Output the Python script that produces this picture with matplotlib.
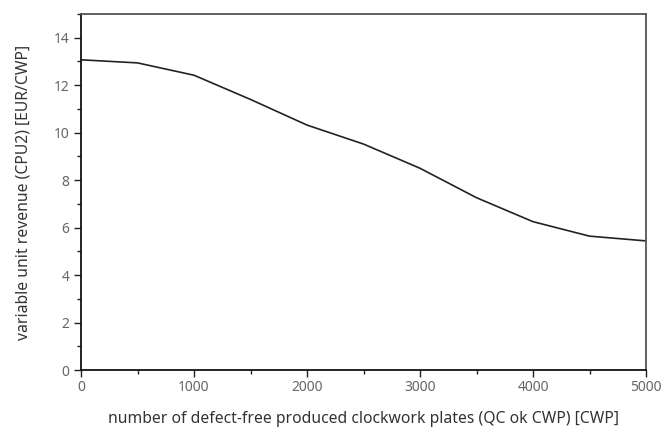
import matplotlib
matplotlib.use("Agg")
import matplotlib.pyplot as plt
from matplotlib.ticker import MultipleLocator

plt.rcParams['font.family'] = ['Noto Sans', 'DejaVu Sans']

# data
qty = [0, 500, 1000, 1500, 2000, 2500, 3000, 3500, 4000, 4500, 5000]
revenue = [13.07, 12.94, 12.42, 11.4, 10.32, 9.52, 8.5, 7.26, 6.25, 5.64, 5.44]

x_label = "number of defect-free produced clockwork plates (QC ok CWP) [CWP]"
y_label = "variable unit revenue (CPU2) [EUR/CWP]"

fig = plt.figure(figsize=(6.62, 4.3), dpi=100)
ax = fig.add_axes([81/662, 60/430, 565/662, 356/430])

ax.plot(qty, revenue, color='#222222', lw=1.2)

ax.set_xlim(0, 5000)
ax.set_ylim(0, 15)
ax.xaxis.set_major_locator(MultipleLocator(1000))
ax.xaxis.set_minor_locator(MultipleLocator(500))
ax.yaxis.set_major_locator(MultipleLocator(2))
ax.yaxis.set_minor_locator(MultipleLocator(1))
ax.tick_params(which='both', direction='out', colors='#222222', labelcolor='#666666', labelsize=10)
ax.tick_params(which='major', length=5, width=1)
ax.tick_params(which='minor', length=3, width=1)
ax.tick_params(axis='x', pad=2)

for s in ['left', 'bottom']:
    ax.spines[s].set_color('#111111')
    ax.spines[s].set_linewidth(1.3)
for s in ['top', 'right']:
    ax.spines[s].set_color('#555555')
    ax.spines[s].set_linewidth(1.3)

ax.set_xlabel(x_label, fontsize=11.3, color='#333333', labelpad=12)
ax.set_ylabel(y_label, fontsize=11.3, color='#333333', labelpad=16)

fig.savefig("out.png", dpi=100)
